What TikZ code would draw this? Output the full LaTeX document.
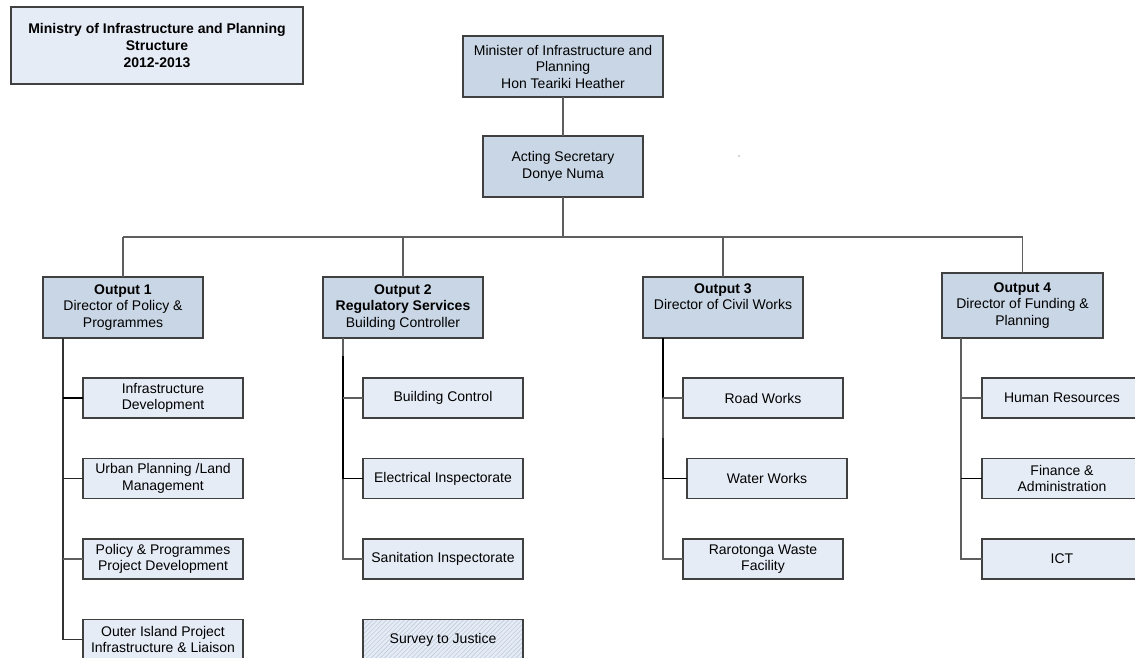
\documentclass[tikz,border=0pt]{standalone}
\usepackage{fontspec}
\setmainfont{Liberation Sans}
\usetikzlibrary{patterns.meta}
\definecolor{topfill}{HTML}{C9D6E5}
\definecolor{subfill}{HTML}{E6ECF6}
\definecolor{boxline}{HTML}{404040}
\definecolor{conline}{HTML}{5E5E5E}
\definecolor{hatchc}{HTML}{BFCADB}
\begin{document}
\begin{tikzpicture}[x=1pt,y=-1pt,
  every node/.style={font=\fontsize{14}{16.5}\selectfont, align=center, inner sep=0pt, outer sep=0pt},
  topbox/.style={draw=boxline, line width=1.2pt, fill=topfill, minimum width=160pt, minimum height=61pt},
  subbox/.style={draw=boxline, line width=1.2pt, fill=subfill, minimum width=160pt, minimum height=40pt},
  titlebox/.style={draw=boxline, line width=1.2pt, fill=subfill, minimum width=292pt, minimum height=77pt, font=\fontsize{14}{17}\selectfont\bfseries},
  hatchbox/.style={subbox, preaction={fill=subfill}, pattern={Lines[angle=45,distance=3.2pt,line width=0.6pt]}, pattern color=hatchc},
  conn/.style={draw=conline, line width=1.2pt},
  heavy/.style={draw=black, line width=1.6pt}
]
\useasboundingbox (0,0) rectangle (1135,658);

% title
\node[titlebox] (title) at (157,45.5) {Ministry of Infrastructure and Planning\\Structure\\2012-2013};

% top
\node[topbox, minimum width=200pt] (min) at (563,66.5) {Minister of Infrastructure and\\Planning\\Hon Teariki Heather};
\node[topbox] (sec) at (563,166.5) {Acting Secretary\\Donye Numa};

% outputs
\node[topbox] (o1) at (123,307.5) {\textbf{Output 1}\\Director of Policy \&\\Programmes};
\node[topbox] (o2) at (403,307.5) {\textbf{Output 2}\\\textbf{Regulatory Services}\\Building Controller};
\node[topbox] (o3) at (723,307.5) {\textbf{Output 3}\\Director of Civil Works\\\strut};
\node[topbox, minimum width=161pt, minimum height=65pt] (o4) at (1022.5,305.5) {\textbf{Output 4}\\Director of Funding \&\\Planning};

% output 1 subs
\node[subbox] (a1) at (163,398) {Infrastructure\\Development};
\node[subbox] (a2) at (163,478.5) {Urban Planning /Land\\Management};
\node[subbox] (a3) at (163,559) {Policy \& Programmes\\Project Development};
\node[subbox] (a4) at (163,639.5) {Outer Island Project\\Infrastructure \& Liaison};

% output 2 subs
\node[subbox] (b1) at (443,398) {Building Control};
\node[subbox] (b2) at (443,478.5) {Electrical Inspectorate};
\node[subbox] (b3) at (443,559) {Sanitation Inspectorate};
\node[hatchbox] (b4) at (443,639.5) {Survey to Justice};

% output 3 subs
\node[subbox] (c1) at (763,398) {Road Works};
\node[subbox] (c2) at (767,478.5) {Water Works};
\node[subbox] (c3) at (763,559) {Rarotonga Waste\\Facility};

% output 4 subs
\node[subbox] (d1) at (1062,398) {Human Resources};
\node[subbox] (d2) at (1062,478.5) {Finance \&\\Administration};
\node[subbox] (d3) at (1062,559) {ICT};

% trunk coordinates
\coordinate (t1) at (63,0);
\coordinate (t2) at (343,0);
\coordinate (t3) at (663,0);
\coordinate (t4) at (961,0);
\coordinate (bus) at (0,237);

% top connectors
\draw[conn] (min.south) -- (sec.north);
\draw[conn] (sec.south) -- (sec.south |- bus);
\draw[conn] (o1.north |- bus) -- (o4.north |- bus);
\draw[conn] (o1.north |- bus) -- (o1.north);
\draw[conn] (o2.north |- bus) -- (o2.north);
\draw[conn] (o3.north |- bus) -- (o3.north);
\draw[conn] (o4.north |- bus) -- (o4.north);

% output 1 trunk
\draw[conn, draw=black!80] (o1.south -| t1) |- (a4.west);
\draw[heavy] (a1.west -| t1) -- (a1.west);
\draw[conn, draw=black!85] (a2.west -| t1) -- (a2.west);
\draw[conn] (a3.west -| t1) -- (a3.west);

% output 2 trunk
\draw[conn] (o2.south -| t2) |- (b3.west);
\draw[heavy, line width=1.4pt] (t2 |- 0,356) -- (t2 |- b2.west);
\draw[conn] (b1.west -| t2) -- (b1.west);
\draw[conn, draw=black] (b2.west -| t2) -- (b2.west);

% output 3 trunk
\draw[conn] (o3.south -| t3) |- (c3.west);
\draw[heavy] (o3.south -| t3) -- (t3 |- c1.west);
\draw[conn, draw=black!85] (t3 |- 0,438) -- (t3 |- c2.west);
\draw[conn] (c1.west -| t3) -- (c1.west);
\draw[conn, draw=black] (c2.west -| t3) -- (c2.west);

% output 4 trunk
\draw[conn] (o4.south -| t4) |- (d3.west);
\draw[conn] (d1.west -| t4) -- (d1.west);
\draw[conn, draw=black] (d2.west -| t4) -- (d2.west);

% stray dot
\fill[black!70] (739,156) circle (0.6pt);
\end{tikzpicture}
\end{document}
